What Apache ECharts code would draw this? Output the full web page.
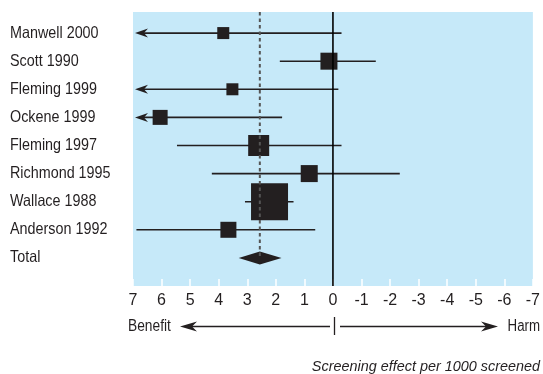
<!DOCTYPE html>
<html><head><meta charset="utf-8">
<script src="https://cdn.jsdelivr.net/npm/echarts@6/dist/echarts.min.js"></script>
<style>html,body{margin:0;padding:0;background:#fff}#c{width:543px;height:374px}</style>
</head><body><div id="c"></div>
<script>
// ---- data ----
const studies = ['Manwell 2000','Scott 1990','Fleming 1999','Ockene 1999','Fleming 1997','Richmond 1995','Wallace 1988','Anderson 1992'];
const estimates = [3.84, 0.14, 3.52, 6.05, 2.60, 0.83, 2.22, 3.66];
const ciBenefitEnd = [8.5, 1.86, 8.5, 8.5, 5.46, 4.24, 3.08, 6.88]; // >7 = off scale (arrow)
const ciHarmEnd = [-0.30, -1.50, -0.19, 1.78, -0.30, -2.34, 1.38, 0.62];
const weights = [12, 17, 12, 15, 21, 17, 37, 16];
const totalLabel = 'Total';
const totalEstimate = 2.56;
const totalCI = [3.30, 1.80];
const xTicks = [7,6,5,4,3,2,1,0,-1,-2,-3,-4,-5,-6,-7];
const rowLabels = studies.concat([totalLabel]);

const FONT = '"Liberation Sans", Arial, sans-serif';
const INK = '#231f20';

const chart = echarts.init(document.getElementById('c'));

const studyData = studies.map((s, i) => [i + 1, estimates[i], ciBenefitEnd[i], ciHarmEnd[i], weights[i]]);
const labelData = rowLabels.map((r, i) => [0, i + 1, r]);

function renderStudy(params, api) {
  const row = api.value(0), est = api.value(1), hi = api.value(2), lo = api.value(3), w = api.value(4);
  const xmax = 7;
  const clipped = hi > xmax;
  const pHi = api.coord([Math.min(hi, xmax), row]);
  const pLo = api.coord([lo, row]);
  const pE = api.coord([est, row]);
  const children = [];
  children.push({type: 'line', shape: {x1: pHi[0] + (clipped ? 8 : 0), y1: pHi[1], x2: pLo[0], y2: pLo[1]},
    style: {stroke: INK, lineWidth: 1.6}});
  if (clipped) {
    const x = pHi[0] + 2, y = pHi[1];
    children.push({type: 'polygon', shape: {points: [[x, y], [x + 13, y - 4.5], [x + 9, y], [x + 13, y + 4.5]]},
      style: {fill: INK}});
  }
  children.push({type: 'rect', shape: {x: pE[0] - w / 2, y: pE[1] - w / 2, width: w, height: w}, style: {fill: INK}});
  return {type: 'group', children};
}

function renderTotal(params, api) {
  const row = api.value(0);
  const pC = api.coord([api.value(1), row]);
  const pL = api.coord([api.value(2), row]);
  const pR = api.coord([api.value(3), row]);
  const h = 6.5;
  return {type: 'polygon', shape: {points: [[pL[0], pC[1]], [pC[0], pC[1] - h], [pR[0], pC[1]], [pC[0], pC[1] + h]]},
    style: {fill: INK}};
}

function renderRefs(params, api) {
  const cs = params.coordSys;
  const p0 = api.coord([0, 1]);
  const pT = api.coord([api.value(0), api.value(1)]);
  return {type: 'group', children: [
    {type: 'line', shape: {x1: p0[0], y1: cs.y, x2: p0[0], y2: cs.y + cs.height}, style: {stroke: '#000', lineWidth: 1.6}},
    {type: 'line', shape: {x1: pT[0], y1: cs.y, x2: pT[0], y2: pT[1]}, style: {stroke: '#555', lineWidth: 2, lineDash: [3.5, 3]}}
  ]};
}

function renderLabel(params, api) {
  const cs = params.coordSys;
  const p = api.coord([0, api.value(1)]);
  return {type: 'text', x: cs.x - 123, y: p[1], scaleX: 0.87,
    style: {text: rowLabels[params.dataIndex], x: 0, y: 0, fontSize: 16.5, fontFamily: FONT, fill: INK,
      align: 'left', verticalAlign: 'middle'}};
}

const option = {
  animation: false,
  grid: {left: 133, right: 7, top: 12, bottom: 88, show: true, backgroundColor: '#c6e9f9', borderWidth: 0},
  xAxis: {
    type: 'value', min: -7, max: 7, interval: 1, inverse: true,
    axisLine: {show: false}, splitLine: {show: false},
    axisTick: {show: true, inside: true, length: 7, lineStyle: {color: '#fff', width: 1.5}},
    axisLabel: {color: INK, fontSize: 16, fontFamily: FONT, margin: 7, formatter: v => String(v)}
  },
  yAxis: {
    type: 'value', min: 0.25, max: 10, inverse: true, show: false
  },
  series: [
    {type: 'custom', renderItem: renderLabel, data: labelData, clip: false, z: 2, silent: true},
    {type: 'custom', renderItem: renderStudy, data: studyData, clip: false, z: 2},
    {type: 'custom', renderItem: renderTotal, data: [[9, totalEstimate, totalCI[0], totalCI[1]]], z: 2},
    {type: 'custom', renderItem: renderRefs, data: [[totalEstimate, 9]], z: 3}
  ],
  graphic: [
    {type: 'text', x: 128, y: 327, scaleX: 0.86, style: {text: 'Benefit', fontSize: 16, fontFamily: FONT, fill: INK, verticalAlign: 'middle'}},
    {type: 'text', x: 540, y: 327, scaleX: 0.83, style: {text: 'Harm', fontSize: 16, fontFamily: FONT, fill: INK, align: 'right', verticalAlign: 'middle'}},
    {type: 'line', shape: {x1: 190, y1: 326.5, x2: 330, y2: 326.5}, style: {stroke: INK, lineWidth: 1.3}},
    {type: 'polygon', shape: {points: [[180, 326.5], [197, 321.5], [192, 326.5], [197, 331.5]]}, style: {fill: INK}},
    {type: 'line', shape: {x1: 334.5, y1: 317, x2: 334.5, y2: 335}, style: {stroke: INK, lineWidth: 1.3}},
    {type: 'line', shape: {x1: 340, y1: 326.5, x2: 488, y2: 326.5}, style: {stroke: INK, lineWidth: 1.3}},
    {type: 'polygon', shape: {points: [[498, 326.5], [481, 321.5], [486, 326.5], [481, 331.5]]}, style: {fill: INK}},
    {type: 'text', x: 540, y: 367, scaleX: 0.96, style: {text: 'Screening effect per 1000 screened', fontSize: 15,
      fontStyle: 'italic', fontFamily: FONT, fill: INK, align: 'right', verticalAlign: 'middle'}}
  ]
};
chart.setOption(option);
</script>
</body></html>
